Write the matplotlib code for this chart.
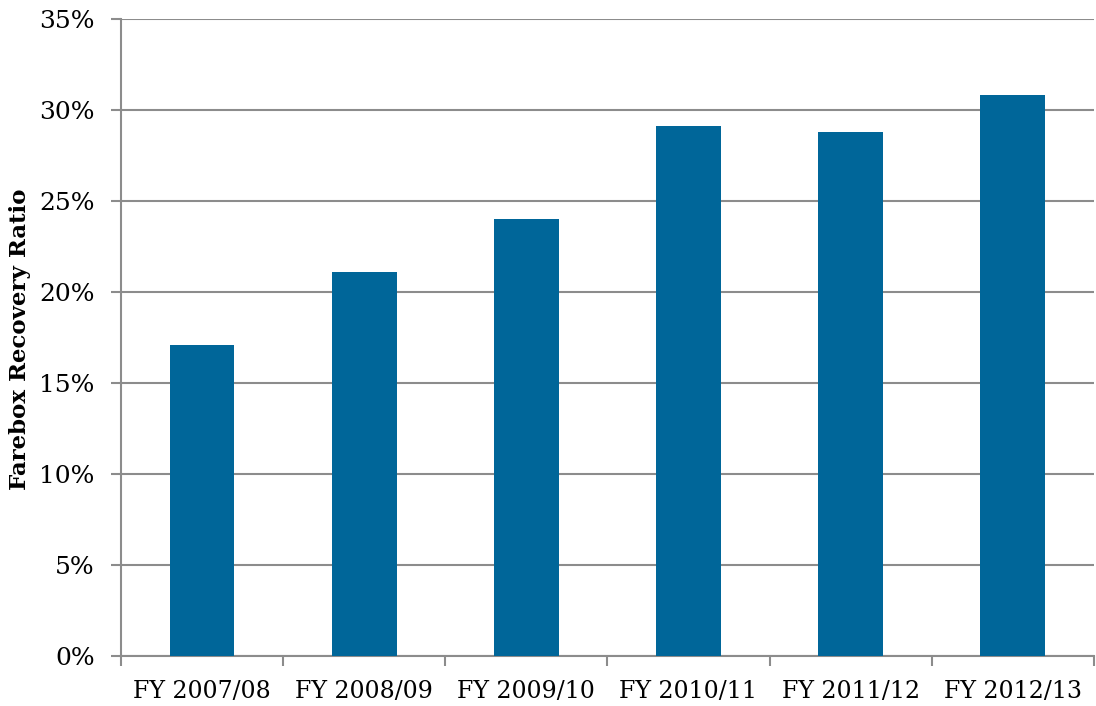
import matplotlib
matplotlib.use("Agg")
import matplotlib.pyplot as plt
from matplotlib.ticker import FuncFormatter, FixedLocator
import numpy as np

categories = ["FY 2007/08", "FY 2008/09", "FY 2009/10", "FY 2010/11", "FY 2011/12", "FY 2012/13"]
ratios = [17.1, 21.1, 24.0, 29.1, 28.8, 30.8]
y_ticks = [0, 5, 10, 15, 20, 25, 30, 35]

plt.rcParams['font.family'] = ['DejaVu Serif']

fig = plt.figure(figsize=(10.96, 7.06), dpi=100)
ax = fig.add_axes([0.1104, 0.0708, 0.8876, 0.9022])

grid_color = "#8c8c8c"
x = np.arange(len(categories))
ax.bar(x, ratios, width=0.4, color="#006699", zorder=3)

ax.set_xlim(-0.5, len(categories) - 0.5)
ax.set_ylim(0, 35)
ax.set_yticks(y_ticks)
ax.yaxis.set_major_formatter(FuncFormatter(lambda v, p: f"{int(v)}%"))
ax.yaxis.grid(True, color=grid_color, linewidth=1.5, zorder=0)

ax.set_xticks(x)
ax.set_xticklabels(categories)
ax.xaxis.set_minor_locator(FixedLocator(np.arange(-0.5, len(categories), 1.0)))
ax.tick_params(axis="x", which="major", length=0, pad=17, labelsize=17)
ax.tick_params(axis="x", which="minor", length=7, width=1.5, color=grid_color)
ax.tick_params(axis="y", length=7, width=1.5, color=grid_color, pad=12, labelsize=18)

for side in ("top", "right"):
    ax.spines[side].set_visible(False)
for side in ("left", "bottom"):
    ax.spines[side].set_color(grid_color)
    ax.spines[side].set_linewidth(1.5)

fig.text(20 / 1096, 0.52, "Farebox Recovery Ratio", rotation=90,
         ha="center", va="center", fontsize=16.5, fontweight="bold")

fig.savefig("out.png", dpi=100)
